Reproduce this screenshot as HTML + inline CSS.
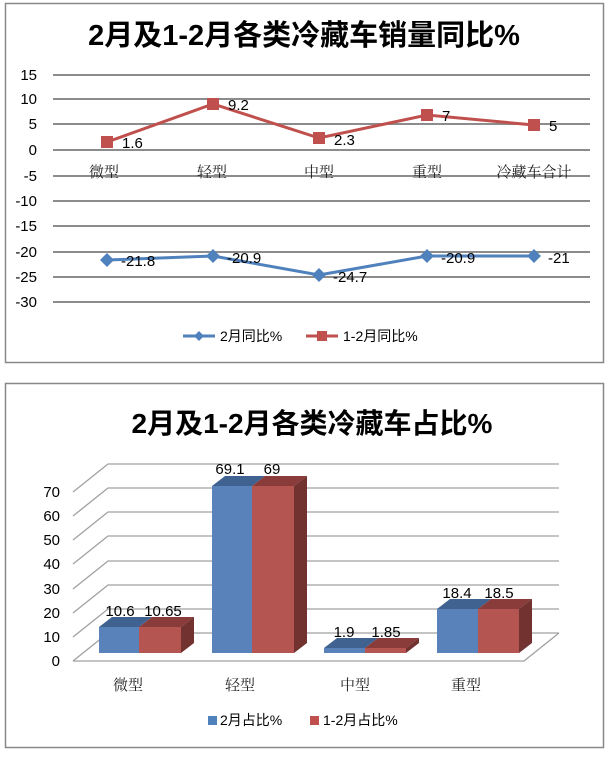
<!DOCTYPE html>
<html><head><meta charset="utf-8"><style>
body{margin:0;background:#fff;}
svg text{font-family:"Liberation Sans","Noto Sans CJK SC",sans-serif;}
svg .c{font-family:"Liberation Serif","Noto Serif CJK SC",serif;}
</style></head><body>
<svg width="608" height="752" xmlns="http://www.w3.org/2000/svg">
<rect x="0" y="0" width="608" height="752" fill="#fff"/>
<!-- Chart 1 -->
<rect x="5.5" y="3.5" width="598" height="359" fill="#fff" stroke="#888" stroke-width="1.5"/>
<text x="304" y="45" font-size="29" font-weight="bold" text-anchor="middle">2月及1-2月各类冷藏车销量同比%</text>
<g stroke="#8c8c8c" stroke-width="2">
<line x1="53" y1="75" x2="590" y2="75"/><line x1="53" y1="99" x2="590" y2="99"/><line x1="53" y1="124" x2="590" y2="124"/><line x1="53" y1="150" x2="590" y2="150"/><line x1="53" y1="176" x2="590" y2="176"/><line x1="53" y1="201" x2="590" y2="201"/><line x1="53" y1="226" x2="590" y2="226"/><line x1="53" y1="252" x2="590" y2="252"/><line x1="53" y1="277" x2="590" y2="277"/><line x1="53" y1="302" x2="590" y2="302"/>
</g>
<g font-size="15" text-anchor="end">
<text x="37" y="80">15</text><text x="37" y="104">10</text><text x="37" y="129">5</text><text x="37" y="155">0</text><text x="37" y="181">-5</text><text x="37" y="206">-10</text><text x="37" y="231">-15</text><text x="37" y="257">-20</text><text x="37" y="282">-25</text><text x="37" y="307">-30</text>
</g>
<g font-size="15" text-anchor="middle" fill="#222" class="c">
<text x="104" y="177" class="c">微型</text><text x="212" y="177" class="c">轻型</text><text x="319" y="177" class="c">中型</text><text x="427" y="177" class="c">重型</text><text x="534" y="177" class="c">冷藏车合计</text>
</g>
<polyline points="107,142 213,104 319,138 427,115 534,125" fill="none" stroke="#c0504d" stroke-width="3"/>
<g fill="#c0504d"><rect x="101" y="136" width="12" height="12"/><rect x="207" y="98" width="12" height="12"/><rect x="313" y="132" width="12" height="12"/><rect x="421" y="109" width="12" height="12"/><rect x="528" y="119" width="12" height="12"/></g>
<polyline points="107,260 213,256 319,275 427,256 534,256" fill="none" stroke="#4f81bd" stroke-width="3"/>
<g fill="#4f81bd"><polygon points="107,253 114,260 107,267 100,260"/><polygon points="213,249 220,256 213,263 206,256"/><polygon points="319,268 326,275 319,282 312,275"/><polygon points="427,249 434,256 427,263 420,256"/><polygon points="534,249 541,256 534,263 527,256"/></g>
<g font-size="15">
<text x="122" y="148">1.6</text><text x="228" y="110">9.2</text><text x="334" y="145">2.3</text><text x="442" y="121">7</text><text x="549" y="131">5</text>
<text x="121" y="266">-21.8</text><text x="227" y="263">-20.9</text><text x="333" y="282">-24.7</text><text x="441" y="263">-20.9</text><text x="548" y="263">-21</text>
</g>
<line x1="183" y1="336" x2="215" y2="336" stroke="#4f81bd" stroke-width="3"/><polygon points="199,331 204,336 199,341 194,336" fill="#4f81bd"/>
<text x="220" y="341" font-size="14">2月同比%</text>
<line x1="306" y1="336" x2="338" y2="336" stroke="#c0504d" stroke-width="3"/><rect x="317" y="331" width="10" height="10" fill="#c0504d"/>
<text x="343" y="341" font-size="14">1-2月同比%</text>

<!-- Chart 2 -->
<rect x="5.5" y="383.5" width="598" height="364" fill="#fff" stroke="#888" stroke-width="1.5"/>
<text x="312" y="433" font-size="28" font-weight="bold" text-anchor="middle">2月及1-2月各类冷藏车占比%</text>
<g stroke="#a0a0a0" stroke-width="1.3" fill="none">
<polyline points="73,661 108,633 559,633"/>
<polyline points="73,637 108,609 559,609"/>
<polyline points="73,613 108,585 559,585"/>
<polyline points="73,589 108,561 559,561"/>
<polyline points="73,564 108,536 559,536"/>
<polyline points="73,540 108,512 559,512"/>
<polyline points="73,516 108,488 559,488"/>
<polyline points="73,492 108,464 559,464"/>
<polyline points="73,661 524,661 559,633"/>
</g>
<g font-size="15" text-anchor="end">
<text x="60" y="666">0</text><text x="60" y="642">10</text><text x="60" y="618">20</text><text x="60" y="594">30</text><text x="60" y="569">40</text><text x="60" y="545">50</text><text x="60" y="521">60</text><text x="60" y="497">70</text>
</g>
<g>
<polygon points="99,627 112,617 152,617 139,627" fill="#3f6291"/><rect x="99" y="627" width="40" height="26" fill="#5a82ba"/>
<polygon points="139,627 152,617 194,617 181,627" fill="#8a3c3a"/><rect x="139" y="627" width="42" height="26" fill="#b55551"/>
<polygon points="181,627 194,617 194,643 181,653" fill="#723230"/>
<polygon points="212,486 225,476 265,476 252,486" fill="#3f6291"/><rect x="212" y="486" width="40" height="167" fill="#5a82ba"/>
<polygon points="252,486 265,476 307,476 294,486" fill="#8a3c3a"/><rect x="252" y="486" width="42" height="167" fill="#b55551"/>
<polygon points="294,486 307,476 307,643 294,653" fill="#723230"/>
<polygon points="324,648 337,638 378,638 365,648" fill="#3f6291"/><rect x="324" y="648" width="41" height="5" fill="#5a82ba"/>
<polygon points="365,648 378,638 419,638 406,648" fill="#8a3c3a"/><rect x="365" y="648" width="41" height="5" fill="#b55551"/>
<polygon points="406,648 419,638 419,643 406,653" fill="#723230"/>
<polygon points="437,609 450,599 491,599 478,609" fill="#3f6291"/><rect x="437" y="609" width="41" height="44" fill="#5a82ba"/>
<polygon points="478,609 491,599 532,599 519,609" fill="#8a3c3a"/><rect x="478" y="609" width="41" height="44" fill="#b55551"/>
<polygon points="519,609 532,599 532,643 519,653" fill="#723230"/>
</g>
<g font-size="15" text-anchor="middle">
<text x="120" y="616">10.6</text><text x="163" y="616">10.65</text>
<text x="230" y="474">69.1</text><text x="272" y="474">69</text>
<text x="344" y="637">1.9</text><text x="386" y="637">1.85</text>
<text x="457" y="598">18.4</text><text x="499" y="598">18.5</text>
</g>
<g font-size="15" text-anchor="middle" fill="#222">
<text x="128" y="690" class="c">微型</text><text x="240" y="690" class="c">轻型</text><text x="355" y="690" class="c">中型</text><text x="466" y="690" class="c">重型</text>
</g>
<rect x="208" y="716" width="9" height="9" fill="#4f81bd"/><text x="220" y="725" font-size="14">2月占比%</text>
<rect x="310" y="716" width="9" height="9" fill="#c0504d"/><text x="323" y="725" font-size="14">1-2月占比%</text>
</svg>
</body></html>
